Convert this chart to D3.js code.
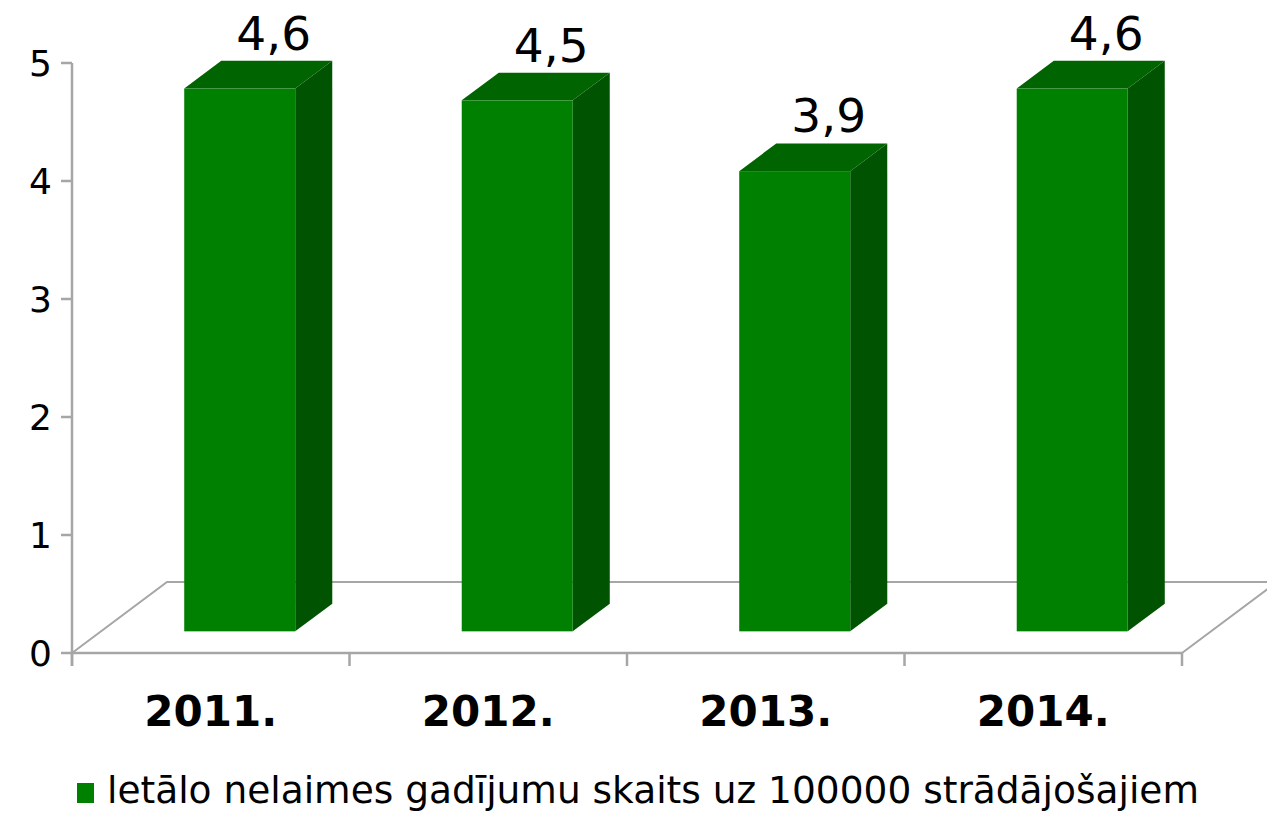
<!DOCTYPE html>
<html>
<head>
<meta charset="utf-8">
<script src="https://cdn.jsdelivr.net/npm/d3@7"></script>
<style>
  html, body { margin: 0; padding: 0; background: #fff; }
  svg { display: block; font-family: "DejaVu Sans", Verdana, sans-serif; }
</style>
</head>
<body>
<svg id="chart" width="1267" height="813"></svg>
<script>
// ---- data ----
const categories = ["2011.", "2012.", "2013.", "2014."];
const values = [4.6, 4.5, 3.9, 4.6];
const valueLabels = ["4,6", "4,5", "3,9", "4,6"];
const yTicks = [0, 1, 2, 3, 4, 5];
const seriesName = "letālo nelaimes gadījumu skaits uz 100000 strādājošajiem";

// ---- layout ----
const svg = d3.select("#chart");
const plotLeft = 72, plotRight = 1182, yTop = 63, yBottom = 653;
const depthX = 95, depthY = -71;          // full floor depth offset
const barFront = 0.305, barBack = 0.695;  // fraction of depth
const gridColor = "#a6a6a6";
const frontColor = "#008000", topColor = "#006400", sideColor = "#005300";

const x = d3.scaleBand().domain(categories).range([plotLeft, plotRight]).paddingInner(0).paddingOuter(0);
const y = d3.scaleLinear().domain([0, 5]).range([yBottom, yTop]);

const off = t => [depthX * t, depthY * t];

// floor
const g = svg.append("g");
const [bx, by] = off(1);
g.append("path")
  .attr("d", `M${plotLeft},${yBottom} L${plotLeft + bx},${yBottom + by} L${plotRight + bx},${yBottom + by} M${plotRight},${yBottom} L${plotRight + bx},${yBottom + by}`)
  .attr("fill", "none").attr("stroke", gridColor).attr("stroke-width", 2);

// front axis lines
g.append("line").attr("x1", plotLeft).attr("x2", plotRight).attr("y1", yBottom).attr("y2", yBottom)
  .attr("stroke", gridColor).attr("stroke-width", 2.5);
g.append("line").attr("x1", plotLeft).attr("x2", plotLeft).attr("y1", yTop).attr("y2", yBottom + 13)
  .attr("stroke", gridColor).attr("stroke-width", 2.5);

// y ticks
g.selectAll(".ytick").data(yTicks).join("line")
  .attr("x1", plotLeft - 11).attr("x2", plotLeft)
  .attr("y1", d => y(d)).attr("y2", d => y(d))
  .attr("stroke", gridColor).attr("stroke-width", 2.5);
g.selectAll(".ylab").data(yTicks).join("text")
  .attr("x", 52).attr("y", d => y(d) + 13)
  .attr("text-anchor", "end").attr("font-size", 36).attr("fill", "#000")
  .text(d => d);

// x ticks
const xTickPos = categories.map(c => x(c)).concat([plotRight]);
g.selectAll(".xtick").data(xTickPos).join("line")
  .attr("x1", d => d).attr("x2", d => d).attr("y1", yBottom).attr("y2", yBottom + 13)
  .attr("stroke", gridColor).attr("stroke-width", 2.5);
g.selectAll(".xlab").data(categories).join("text")
  .attr("x", d => x(d) + x.bandwidth() / 2).attr("y", 726)
  .attr("text-anchor", "middle").attr("font-size", 42).attr("font-weight", "bold").attr("fill", "#000")
  .text(d => d);

// bars
const bw = x.bandwidth() * 0.4;
const [fx, fy] = off(barFront);
const [kx, ky] = off(barBack);
const dx = kx - fx, dy = ky - fy;
const bars = g.selectAll(".bar").data(categories.map((c, i) => ({ c, v: values[i], lab: valueLabels[i] }))).join("g");
bars.each(function (d) {
  const s = d3.select(this);
  const x0 = x(d.c) + (x.bandwidth() - bw) / 2 + fx;
  const x1 = x0 + bw;
  const yb = y(0) + fy;
  const yt = y(d.v) + fy;
  s.append("path").attr("d", `M${x1},${yb} L${x1 + dx},${yb + dy} L${x1 + dx},${yt + dy} L${x1},${yt} Z`).attr("fill", sideColor);
  s.append("path").attr("d", `M${x0},${yt} L${x0 + dx},${yt + dy} L${x1 + dx},${yt + dy} L${x1},${yt} Z`).attr("fill", topColor);
  s.append("rect").attr("x", x0).attr("y", yt).attr("width", bw).attr("height", yb - yt).attr("fill", frontColor);
  s.append("text").attr("x", x0 + bw / 2 + 34).attr("y", yt + dy - 11)
    .attr("text-anchor", "middle").attr("font-size", 47).attr("fill", "#000").text(d.lab);
});

// legend
svg.append("rect").attr("x", 77).attr("y", 783).attr("width", 17).attr("height", 20).attr("fill", frontColor);
svg.append("text").attr("x", 107).attr("y", 803).attr("font-size", 37.5).attr("fill", "#000").text(seriesName);
</script>
</body>
</html>
